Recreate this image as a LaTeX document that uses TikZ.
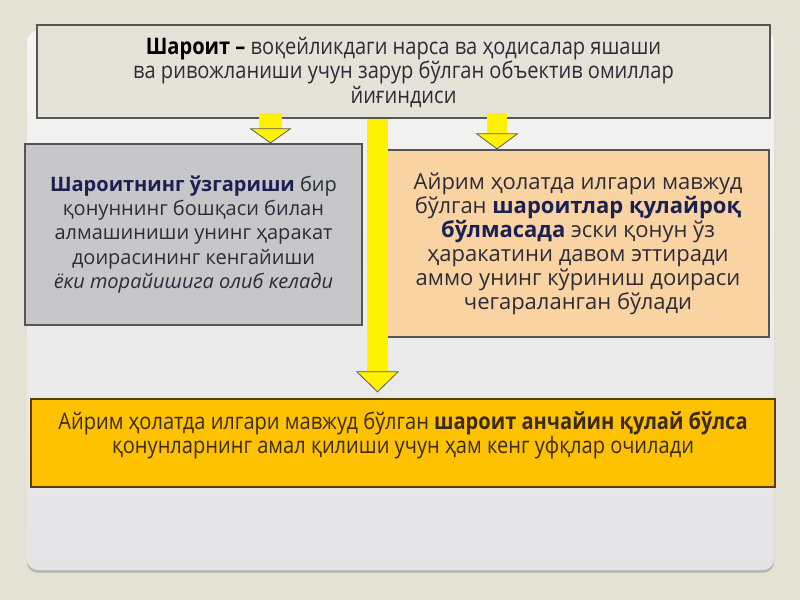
\documentclass[tikz,border=0pt]{standalone}
\usepackage{fontspec}
\setmainfont{Open Sans}
\newfontfamily\narrowfont[FakeStretch=0.88]{Open Sans}
\usetikzlibrary{arrows.meta,shadows}

\definecolor{slidebg}{HTML}{E4E1D5}
\definecolor{paneltop}{HTML}{F5F5F3}
\definecolor{panelbot}{HTML}{E4E4E7}
\definecolor{topfill}{HTML}{E5E2D8}
\definecolor{greyfill}{HTML}{C7C7CA}
\definecolor{peachfill}{HTML}{FAD3A3}
\definecolor{amberfill}{HTML}{FEC200}
\definecolor{navytext}{HTML}{1B2052}
\definecolor{greytext}{HTML}{2C2C38}
\definecolor{browntext}{HTML}{3A2A10}

\tikzset{every picture/.style={line width=0.75pt}}
\tikzset{
  box/.style={draw={rgb,255:red,85;green,85;blue,85}, line width=0.9pt, inner sep=0pt, align=center},
  blockarrow/.style={draw=yellow, line width=#1, line cap=butt},
  headtip/.style n args={2}{-{Triangle[width=#1,length=#2,line width=0.6pt,color=black!65,fill=yellow]}}
}

\begin{document}
\begin{tikzpicture}[x=0.75pt,y=0.75pt,yscale=-1,xscale=1]
\useasboundingbox (0,0) rectangle (800,600);

%Shape: Background
\fill [slidebg] (0,0) rectangle (800,600);
%Shape: Panel
\shade [top color=paneltop, bottom color=panelbot, rounded corners=8pt,
  drop shadow={shadow xshift=0pt, shadow yshift=-2pt, opacity=0.45}] (27,31) rectangle (774,570);

% Text Node
\node (top) [box, fill=topfill, minimum width=549.75pt, minimum height=69.75pt, text=greytext,
  font={\narrowfont\fontsize{17.1}{18.4}\selectfont}] at (403.5,71.5)
  {\rule{0pt}{14pt}{\color{black}\bfseries Шароит –} воқейликдаги нарса ва ҳодисалар яшаши\\
   ва ривожланиши учун зарур бўлган объектив омиллар\\
   йиғиндиси};
% Text Node
\node (leftbox) [box, fill=greyfill, minimum width=252.75pt, minimum height=135.75pt, text=greytext,
  font={\fontsize{15}{18.2}\selectfont}] at (193.5,234.5)
  {{\color{navytext}\bfseries Шароитнинг ўзгариши} бир\\
   қонуннинг бошқаси билан\\
   алмашиниши унинг ҳаракат\\
   доирасининг кенгайиши\\
   {\itshape ёки торайишига олиб келади}};
% Text Node
\node (rightbox) [box, fill=peachfill, minimum width=286.5pt, minimum height=140.25pt, text=greytext,
  font={\fontsize{16.5}{18}\selectfont}] at (578,243.5)
  {Айрим ҳолатда илгари мавжуд\\
   бўлган {\color{navytext}\bfseries шароитлар қулайроқ}\\
   {\color{navytext}\bfseries бўлмасада} эски қонун ўз\\
   ҳаракатини давом эттиради\\
   аммо унинг кўриниш доираси\\
   чегараланган бўлади};
% Text Node
\node (bottom) [box, draw={rgb,255:red,90;green,60;blue,10}, fill=amberfill, text=browntext] at (403,443)
  {\parbox[c][66pt][t]{558pt}{\centering\narrowfont\fontsize{17.1}{18}\selectfont
   \vspace*{9.75pt}
   Айрим ҳолатда илгари мавжуд бўлган {\bfseries шароит анчайин қулай бўлса}\\
   қонунларнинг амал қилиши учун ҳам кенг уфқлар очилади}};

% Arrow columns
\coordinate (lcol) at (270.5,0);
\coordinate (mcol) at (377.5,0);
\coordinate (rcol) at (497,0);

%Straight Lines
\draw [blockarrow=17.25pt, headtip={31.5pt}{11.25pt}, shorten <=-4.5pt] (top.south -| lcol) -- (leftbox.north -| lcol);
%Straight Lines
\draw [blockarrow=15pt, headtip={32.25pt}{12pt}, shorten <=-4.5pt] (top.south -| rcol) -- (rightbox.north -| rcol);
%Straight Lines
\draw [blockarrow=15.75pt, headtip={32.25pt}{15.75pt}, shorten >=4.5pt] (top.south -| mcol) -- (bottom.north -| mcol);

\end{tikzpicture}
\end{document}
